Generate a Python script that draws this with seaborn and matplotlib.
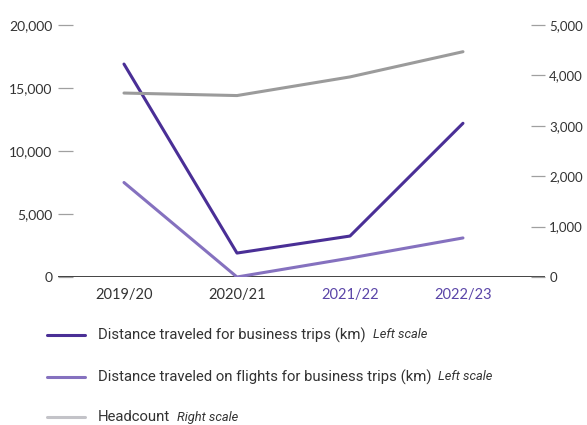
import matplotlib
matplotlib.use("Agg")
import matplotlib.pyplot as plt
from matplotlib import font_manager
from matplotlib.lines import Line2D
import seaborn as sns
import pandas as pd

# Fiscal years and series
years = ["2019/20", "2020/21", "2021/22", "2022/23"]
business_km = [16900, 1900, 3250, 12200]
flight_km = [7500, 0, 1500, 3100]
headcount = [3650, 3600, 3970, 4470]

left_ticks = [0, 5000, 10000, 15000, 20000]
right_ticks = [0, 1000, 2000, 3000, 4000, 5000]

DARK = "#4a2f96"
LIGHT = "#8571bf"
GRAY = "#9b9b9b"
GRAY_LEGEND = "#c3c3c8"
TEXT = "#333333"

sns.set_theme(style="white")
names = {f.name for f in font_manager.fontManager.ttflist}
narrow = "Liberation Sans Narrow" if "Liberation Sans Narrow" in names else "Roboto"
plt.rcParams["font.family"] = ["Lato", "DejaVu Sans"]

df = pd.DataFrame({"year": years, "business": business_km,
                   "flight": flight_km, "headcount": headcount})
df["x"] = range(len(years))

W, H = 587, 425
fig = plt.figure(figsize=(W / 100, H / 100), dpi=100)
ax = fig.add_axes([58 / W, (H - 277) / H, (545 - 58) / W, 252 / H])
ax2 = ax.twinx()

sns.lineplot(data=df, x="x", y="business", ax=ax, color=DARK, linewidth=2.2)
sns.lineplot(data=df, x="x", y="flight", ax=ax, color=LIGHT, linewidth=2.2)
sns.lineplot(data=df, x="x", y="headcount", ax=ax2, color=GRAY, linewidth=2.2)

for a in (ax, ax2):
    a.set_xlim(-0.584, 3.726)
    a.set_xlabel("")
    a.set_ylabel("")
    for s in ("left", "right", "top", "bottom"):
        a.spines[s].set_visible(False)
    a.grid(False)

ax.axhline(0, color="#222222", linewidth=1.2, zorder=1)

ax.set_ylim(0, 20000)
ax2.set_ylim(0, 5000)
ax.set_yticks(left_ticks)
ax.set_yticklabels([f"{v:,}" for v in left_ticks])
ax2.set_yticks(right_ticks)
ax2.set_yticklabels([f"{v:,}" for v in right_ticks])

ax.tick_params(axis="y", direction="in", length=11, width=0.9, color="#a0a0a0",
               pad=4, labelsize=10, labelcolor=TEXT, left=True)
ax2.tick_params(axis="y", direction="in", length=10, width=0.9, color="#a0a0a0",
                pad=3, labelsize=9.5, labelcolor=TEXT, right=True)

ax.set_xticks(range(len(years)))
ax.set_xticklabels(years)
ax.tick_params(axis="x", length=0, pad=8, labelsize=10.5)
for i, lbl in enumerate(ax.get_xticklabels()):
    lbl.set_color(TEXT if i < 2 else "#5a45a8")

# Legend drawn beneath the plot
entries = [
    ("Distance traveled for business trips (km)", "Left scale", DARK, 335),
    ("Distance traveled on flights for business trips (km)", "Left scale", LIGHT, 377),
    ("Headcount", "Right scale", GRAY_LEGEND, 417),
]
fig.canvas.draw()
renderer = fig.canvas.get_renderer()
for label, note, col, ypix in entries:
    yf = (H - ypix) / H
    fig.add_artist(Line2D([47 / W, 85 / W], [yf, yf], color=col, linewidth=2.2,
                          transform=fig.transFigure))
    t = fig.text(98 / W, yf, label, fontsize=10.7, color=TEXT, va="center",
                 family=[narrow, "DejaVu Sans"])
    bb = t.get_window_extent(renderer)
    fig.text(bb.x1 / W + 7 / W, yf, note, fontsize=9.3, style="italic",
             color=TEXT, va="center", family=[narrow, "DejaVu Sans"])

fig.savefig("out.png", dpi=100)
